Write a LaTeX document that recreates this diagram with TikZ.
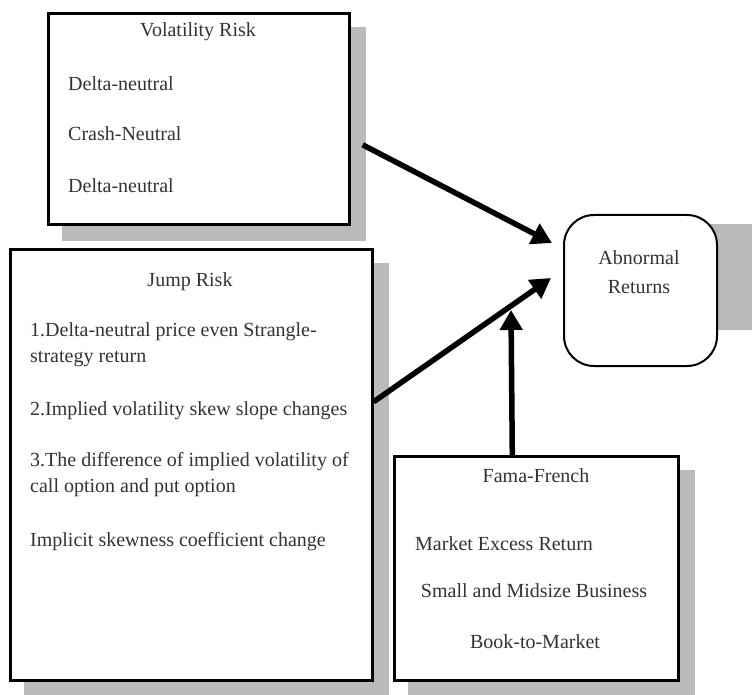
\documentclass[tikz,border=0pt]{standalone}
\usepackage{fontspec}
\setmainfont{Liberation Serif}
\usetikzlibrary{arrows.meta}
\pgfdeclarelayer{bg}
\pgfsetlayers{bg,main}

\begin{document}
\begin{tikzpicture}[x=1pt,y=-1pt,
        box/.style={draw, line width=2.6pt, fill=white, inner sep=0pt, anchor=north west},
        shade/.style={fill=black!27, draw=none},
        txt/.style={inner sep=0pt, anchor=base west, text=black!80, font=\fontsize{20}{26}\selectfont},
        flow/.style={line width=5.5pt, -{Triangle[length=20pt,width=22pt]}}]
        \useasboundingbox (0,0) rectangle (752,695);
        \node (vol) [box, minimum width=301pt, minimum height=211pt] at (47,12) {};
        \node (jump) [box, minimum width=362pt, minimum height=431pt] at (9,248) {};
        \node (fama) [box, minimum width=284pt, minimum height=224pt] at (393,455) {};
        \node (ret) [box, line width=2pt, rounded corners=30pt, minimum width=153pt, minimum height=151pt] at (563,214) {};
        \node (vol0) [txt, anchor=base] at (198,37) {Volatility Risk};
        \node (vol1) [txt] at (68,91) {Delta-neutral};
        \node (vol2) [txt] at (68,141) {Crash-Neutral};
        \node (vol3) [txt] at (68,193) {Delta-neutral};
        \node (jump0) [txt, anchor=base] at (190,286) {Jump Risk};
        \node (jump1) [txt] at (30,336) {1.Delta-neutral price even Strangle-};
        \node (jump2) [txt] at (30,362) {strategy return};
        \node (jump3) [txt] at (30,415) {2.Implied volatility skew slope changes};
        \node (jump4) [txt] at (30,466) {3.The difference of implied volatility of};
        \node (jump5) [txt] at (30,492) {call option and put option};
        \node (jump6) [txt] at (30,546) {Implicit skewness coefficient change};
        \node (fama0) [txt, anchor=base] at (536,482) {Fama-French};
        \node (fama1) [txt] at (415,550) {Market Excess Return};
        \node (fama2) [txt, anchor=base] at (534,597) {Small and Midsize Business};
        \node (fama3) [txt, anchor=base] at (535,648) {Book-to-Market};
        \node (ret0) [txt, anchor=base] at (639,264) {Abnormal};
        \node (ret1) [txt, anchor=base] at (639,293) {Returns};
        \coordinate (t1) at (552,243);
        \coordinate (t2) at (551,278);
        \coordinate (t3) at (511,310);
        \begin{pgfonlayer}{bg}
                \fill[shade] ([shift={(15pt,-15pt)}]vol.north west) rectangle ([shift={(15pt,-15pt)}]vol.south east);
                \fill[shade] ([shift={(15pt,-15pt)}]jump.north west) rectangle ([shift={(15pt,-15pt)}]jump.south east);
                \fill[shade] ([shift={(15pt,-15pt)}]fama.north west) rectangle ([shift={(15pt,-15pt)}]fama.south east);
                \fill[shade, rounded corners=25pt] ([yshift=-10pt]ret.north) rectangle ([shift={(60pt,37pt)}]ret.south east);
        \end{pgfonlayer}
        \draw[flow] ([shift={(12pt,-26pt)}]vol.east) -- (t1);
        \draw[flow] ([yshift=63pt]jump.east) -- (t2);
        \draw[flow] ([xshift=-24pt]fama.north) -- (t3);
\end{tikzpicture}
\end{document}
